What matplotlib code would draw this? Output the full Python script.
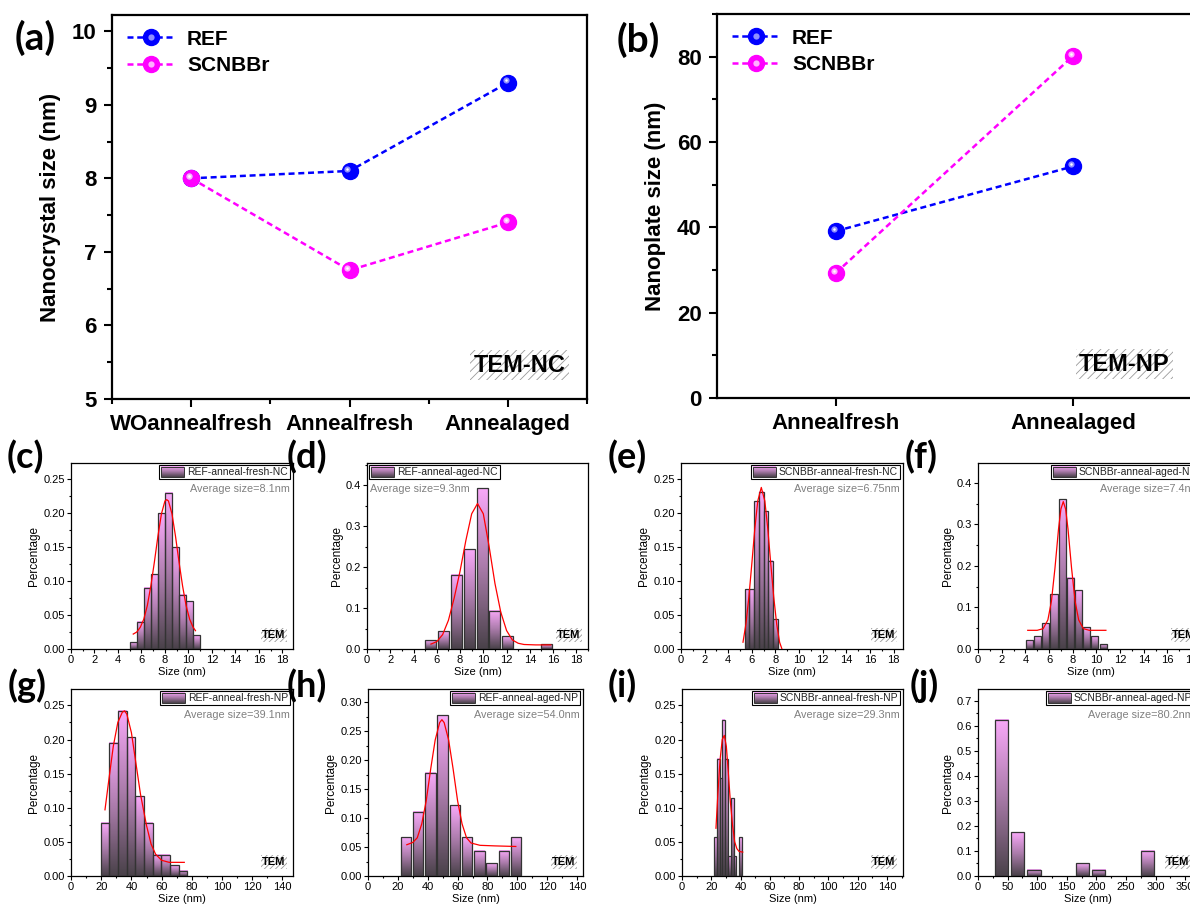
import numpy as np
import matplotlib
matplotlib.use('Agg')
import matplotlib.pyplot as plt
import matplotlib.transforms as mtransforms
from matplotlib.colors import LinearSegmentedColormap
from matplotlib.ticker import MultipleLocator, FormatStrFormatter
from matplotlib.lines import Line2D
from matplotlib.legend_handler import HandlerTuple
from matplotlib.patches import Rectangle

plt.rcParams['font.family'] = ['Liberation Sans', 'DejaVu Sans']
plt.rcParams['hatch.linewidth'] = 0.6

# ---- (a), (b) mean sizes ----
cat_nc = ['WOannealfresh', 'Annealfresh', 'Annealaged']
ref_nc = [8.0, 8.1, 9.3]
scn_nc = [8.0, 6.75, 7.4]

cat_np = ['Annealfresh', 'Annealaged']
ref_np = [39.1, 54.3]
scn_np = [29.3, 80.2]

# ---- histograms (bin centre, fraction) and gaussian fit ----
c_size = [5.3, 5.9, 6.5, 7.1, 7.7, 8.3, 8.9, 9.5, 10.1, 10.7]
c_pct = [0.01, 0.04, 0.09, 0.11, 0.20, 0.23, 0.15, 0.08, 0.07, 0.02]
c_fit_x = [5.3, 5.6, 5.9, 6.2, 6.5, 6.8, 7.1, 7.4, 7.7, 8.0, 8.15, 8.3, 8.6, 8.9, 9.2, 9.5, 9.8, 10.1, 10.4, 10.6]
c_fit_y = [0.022, 0.025, 0.032, 0.044, 0.064, 0.093, 0.128, 0.166, 0.199, 0.218, 0.220, 0.218, 0.199, 0.166,
           0.128, 0.093, 0.064, 0.044, 0.032, 0.027]

d_size = [5.5, 6.6, 7.7, 8.8, 9.9, 11.0, 12.1, 15.4]
d_pct = [0.021, 0.043, 0.181, 0.243, 0.392, 0.093, 0.031, 0.011]
d_fit_x = [5.5, 6.0, 6.5, 7.0, 7.5, 8.0, 8.5, 9.0, 9.5, 10.0, 10.5, 11.0, 11.5, 12.0, 12.5, 13.0, 13.5, 14.5, 15.8]
d_fit_y = [0.012, 0.018, 0.035, 0.07, 0.125, 0.19, 0.265, 0.33, 0.355, 0.33, 0.25, 0.16, 0.09, 0.045, 0.022,
           0.014, 0.011, 0.010, 0.010]

e_size = [5.6, 6.0, 6.4, 6.8, 7.2, 7.6, 8.0]
e_pct = [0.088, 0.088, 0.218, 0.232, 0.203, 0.13, 0.044]
e_fit_x = [5.25, 5.5, 5.75, 6.0, 6.25, 6.5, 6.8, 7.1, 7.35, 7.6, 7.85, 8.1, 8.35, 8.55]
e_fit_y = [0.010, 0.037, 0.077, 0.126, 0.177, 0.218, 0.238, 0.218, 0.177, 0.126, 0.077, 0.037, 0.010, 0.0]

f_size = [4.35, 5.04, 5.73, 6.42, 7.11, 7.80, 8.49, 9.18, 9.87, 10.56]
f_pct = [0.021, 0.031, 0.062, 0.132, 0.361, 0.172, 0.142, 0.052, 0.031, 0.012]
f_fit_x = [4.2, 5.0, 5.5, 5.9, 6.2, 6.5, 6.8, 7.0, 7.2, 7.4, 7.6, 7.9, 8.2, 8.5, 8.9, 9.4, 10.8]
f_fit_y = [0.045, 0.045, 0.049, 0.070, 0.115, 0.195, 0.289, 0.337, 0.355, 0.337, 0.289, 0.195, 0.115, 0.070,
           0.049, 0.045, 0.045]

g_size = [22.5, 28.2, 34.0, 39.7, 45.4, 51.2, 56.9, 62.7, 68.4, 74.1]
g_pct = [0.078, 0.195, 0.242, 0.203, 0.117, 0.078, 0.031, 0.031, 0.016, 0.008]
g_fit_x = [22.5, 25, 28, 31, 34, 35.5, 37, 40, 43, 46, 48, 50, 53, 56, 60, 65, 70, 75]
g_fit_y = [0.097, 0.14, 0.19, 0.225, 0.24, 0.242, 0.237, 0.21, 0.165, 0.12, 0.097, 0.074, 0.047, 0.032,
           0.023, 0.02, 0.02, 0.02]

h_size = [25.4, 33.6, 41.8, 50.0, 58.2, 66.4, 74.6, 82.8, 91.0, 99.2]
h_pct = [0.067, 0.111, 0.178, 0.278, 0.122, 0.067, 0.044, 0.022, 0.044, 0.067]
h_fit_x = [26, 30, 33, 36, 39, 42, 45, 48, 49.5, 51, 54, 57, 60, 63, 66, 69, 75, 85, 99]
h_fit_y = [0.054, 0.058, 0.066, 0.09, 0.13, 0.185, 0.235, 0.265, 0.27, 0.265, 0.235, 0.185, 0.13, 0.09,
           0.066, 0.057, 0.053, 0.052, 0.051]

i_size = [22.85, 24.75, 26.65, 28.55, 30.45, 32.35, 34.25, 36.15, 38.05, 39.95]
i_pct = [0.057, 0.172, 0.143, 0.229, 0.172, 0.029, 0.114, 0.029, 0.0, 0.057]
i_fit_x = [23.2, 24.5, 26, 27.5, 28.9, 30.3, 31.7, 33, 34.5, 36, 37.5, 39, 41.5]
i_fit_y = [0.07, 0.12, 0.17, 0.2, 0.206, 0.19, 0.15, 0.11, 0.075, 0.05, 0.04, 0.036, 0.035]

j_size = [39.7, 67.1, 94.5, 176.7, 204.1, 286.3]
j_pct = [0.625, 0.175, 0.025, 0.05, 0.025, 0.1]

names = ['REF-anneal-fresh-NC', 'REF-anneal-aged-NC', 'SCNBBr-anneal-fresh-NC', 'SCNBBr-anneal-aged-NC',
         'REF-anneal-fresh-NP', 'REF-anneal-aged-NP', 'SCNBBr-anneal-fresh-NP', 'SCNBBr-anneal-aged-NP']
avgs = ['Average size=8.1nm', 'Average size=9.3nm', 'Average size=6.75nm', 'Average size=7.4nm',
        'Average size=39.1nm', 'Average size=54.0nm', 'Average size=29.3nm', 'Average size=80.2nm']

W, H = 1190, 905
fig = plt.figure(figsize=(W / 100, H / 100), dpi=100)
ident = mtransforms.IdentityTransform()


def px_axes(l, t, r, b):
    return fig.add_axes([l / W, 1 - b / H, (r - l) / W, (b - t) / H])


def label(x, y, s, size):
    fig.text(x / W, 1 - y / H, s, ha='left', va='center', fontsize=size, fontweight='bold',
             family=['Lato', 'DejaVu Sans'])


BLUE, MAG = '#0000ff', '#ff00ff'
dash = (0, (2.4, 1.5))


def ball_line(ax, x, y, col, hi):
    ax.plot(x, y, ls=dash, lw=1.8, color=col, zorder=2)
    ax.plot(x, y, 'o', ms=11.5, color=col, mec=col, zorder=3)
    off = mtransforms.offset_copy(ax.transData, fig=fig, x=-1.6, y=1.6, units='points')
    ax.plot(x, y, 'o', ms=4.5, color=hi, mec='none', transform=off, zorder=4)
    ax.plot(x, y, 'o', ms=1.8, color='white', mec='none', transform=off, zorder=5)


def main_panel(ax, cats, ref, scn, ylab, ylim, ymaj, ymin, tag):
    xs = np.arange(len(cats))
    ball_line(ax, xs, ref, BLUE, '#8f8fff')
    ball_line(ax, xs, scn, MAG, '#ffb0ff')
    ax.set_xlim(-0.5, len(cats) - 0.5)
    ax.set_ylim(*ylim)
    ax.set_xticks(xs)
    ax.set_xticklabels(cats)
    ax.yaxis.set_major_locator(MultipleLocator(ymaj))
    ax.yaxis.set_minor_locator(MultipleLocator(ymin))
    ax.tick_params(which='both', direction='out', width=1.5, top=False, right=False)
    ax.tick_params(which='major', length=6, labelsize=16, pad=5)
    ax.tick_params(which='minor', length=3.5)
    for lab in ax.get_xticklabels() + ax.get_yticklabels():
        lab.set_fontweight('bold')
    for sp in ax.spines.values():
        sp.set_linewidth(1.6)
    ax.set_ylabel(ylab, fontsize=16, fontweight='bold', labelpad=8)
    hs = []
    for col, hi in [(BLUE, '#8f8fff'), (MAG, '#ffb0ff')]:
        hs.append((Line2D([], [], ls=dash, lw=1.8, color=col, marker='o', ms=11.5),
                   Line2D([], [], ls='none', marker='o', ms=4.5, color=hi, mec='none')))
    ax.legend(hs, ['REF', 'SCNBBr'], handler_map={tuple: HandlerTuple(ndivide=1)}, loc='upper left',
              frameon=False, prop={'weight': 'bold', 'size': 15}, handlelength=2.3, handletextpad=0.6,
              labelspacing=0.35, borderaxespad=0.3)
    ax.text(0.858, 0.088, tag, transform=ax.transAxes, ha='center', va='center', fontsize=17,
            fontweight='bold', bbox=dict(boxstyle='square,pad=0.15', fc='white', ec='#9a9a9a', lw=0,
                                         hatch='////'))


ax_a = px_axes(112, 15, 587, 399)
main_panel(ax_a, cat_nc, ref_nc, scn_nc, 'Nanocrystal size (nm)', (5, 10.22), 1, 0.5, 'TEM-NC')
ax_a.set_xticks([-0.5, 0.5, 1.5, 2.5], minor=True)

ax_b = px_axes(717, 14, 1192, 398)
main_panel(ax_b, cat_np, ref_np, scn_np, 'Nanoplate size (nm)', (0, 90), 20, 10, 'TEM-NP')
ax_b.set_xticks([], minor=True)

label(15, 38, '(a)', 28)
label(617, 40, '(b)', 28)

# ---- histogram panels ----
grad_cmap = LinearSegmentedColormap.from_list('pk', ['#4a424a', '#a87aa8', '#f8a8f8'])
grad = np.linspace(0, 1, 64).reshape(-1, 1)

panels = [
    dict(box=(71, 463, 293, 649), x=c_size, y=c_pct, w=0.6, fx=c_fit_x, fy=c_fit_y, xlim=19 * 0.995,
         ylim=0.274, xt=(2, 1), yt=(0.05, 0.025), fmt='%.2f', side='right', tag=(7, 457, '(c)')),
    dict(box=(367, 463, 588, 649), x=d_size, y=d_pct, w=0.95, fx=d_fit_x, fy=d_fit_y, xlim=19,
         ylim=0.454, xt=(2, 1), yt=(0.1, 0.05), fmt='%.1f', side='left', tag=(287, 457, '(d)')),
    dict(box=(681, 463, 903, 649), x=e_size, y=e_pct, w=0.4, fx=e_fit_x, fy=e_fit_y, xlim=18.8,
         ylim=0.274, xt=(2, 1), yt=(0.05, 0.025), fmt='%.2f', side='right', tag=(608, 457, '(e)')),
    dict(box=(978, 463, 1203, 649), x=f_size, y=f_pct, w=0.6, fx=f_fit_x, fy=f_fit_y, xlim=19,
         ylim=0.448, xt=(2, 1), yt=(0.1, 0.05), fmt='%.1f', side='right', tag=(905, 457, '(f)')),
    dict(box=(71, 689, 293, 876), x=g_size, y=g_pct, w=5.74, fx=g_fit_x, fy=g_fit_y, xlim=147,
         ylim=0.274, xt=(20, 10), yt=(0.05, 0.025), fmt='%.2f', side='right', tag=(8, 686, '(g)')),
    dict(box=(368, 689, 583, 876), x=h_size, y=h_pct, w=7.1, fx=h_fit_x, fy=h_fit_y, xlim=144,
         ylim=0.323, xt=(20, 10), yt=(0.05, 0.025), fmt='%.2f', side='right', tag=(287, 686, '(h)')),
    dict(box=(682, 689, 903, 876), x=i_size, y=i_pct, w=1.9, fx=i_fit_x, fy=i_fit_y, xlim=151,
         ylim=0.274, xt=(20, 10), yt=(0.05, 0.025), fmt='%.2f', side='right', tag=(608, 686, '(i)')),
    dict(box=(978, 689, 1197, 876), x=j_size, y=j_pct, w=22.5, fx=None, fy=None, xlim=370,
         ylim=0.747, xt=(50, 25), yt=(0.1, 0.05), fmt='%.1f', side='right', tag=(910, 686, '(j)')),
]

renderer = fig.canvas.get_renderer()

for p, name, avg in zip(panels, names, avgs):
    ax = px_axes(*p['box'])
    bars = ax.bar(p['x'], p['y'], width=p['w'], facecolor='none', edgecolor='#333333', lw=0.9, zorder=3)
    for b in bars:
        x0, w, h = b.get_x(), b.get_width(), b.get_height()
        if h <= 0:
            continue
        ax.imshow(grad, cmap=grad_cmap, extent=[x0, x0 + w, 0, h], origin='lower', aspect='auto',
                  interpolation='bilinear', zorder=2)
    if p['fx'] is not None:
        ax.plot(p['fx'], p['fy'], color='red', lw=0.9, zorder=4)

    bb = ax.bbox
    hbox = 14
    top = bb.y1 - 2
    ymid = top - hbox / 2
    if p['side'] == 'right':
        right = bb.x1 - 3
        t = ax.text(right - 2, ymid, name, transform=ident, ha='right', va='center', fontsize=7.5,
                    color='#222222', zorder=8)
        tw = t.get_window_extent(renderer).width
        px1 = right - 2 - tw - 3
        px0 = px1 - 23
        left = px0 - 2
        ax.text(right, top - 24, avg, transform=ident, ha='right', va='center', fontsize=7.8,
                color='#808080', zorder=8)
    else:
        left = bb.x0 + 2
        px0 = left + 2
        px1 = px0 + 23
        t = ax.text(px1 + 3, ymid, name, transform=ident, ha='left', va='center', fontsize=7.5,
                    color='#222222', zorder=8)
        tw = t.get_window_extent(renderer).width
        right = px1 + 3 + tw + 2
        ax.text(left + 1, top - 24, avg, transform=ident, ha='left', va='center', fontsize=7.8,
                color='#808080', zorder=8)
    ax.add_patch(Rectangle((left, top - hbox), right - left, hbox, transform=ident, fc='white',
                           ec='black', lw=0.8, zorder=6))
    ax.imshow(grad, cmap=grad_cmap, extent=[px0, px1, top - hbox + 1.8, top - 1.8], transform=ident,
              origin='lower', aspect='auto', interpolation='bilinear', zorder=7)
    ax.add_patch(Rectangle((px0, top - hbox + 1.8), px1 - px0, hbox - 3.6, transform=ident, fc='none',
                           ec='#333333', lw=0.7, zorder=7.5))

    ax.text(bb.x1 - 19, bb.y0 + 14, 'TEM', transform=ident, ha='center', va='center', fontsize=8,
            fontweight='bold', zorder=8,
            bbox=dict(boxstyle='square,pad=0.15', fc='white', ec='#9a9a9a', lw=0, hatch='//////'))

    ax.set_xlim(0, p['xlim'])
    ax.set_ylim(0, p['ylim'])
    ax.xaxis.set_major_locator(MultipleLocator(p['xt'][0]))
    ax.xaxis.set_minor_locator(MultipleLocator(p['xt'][1]))
    ax.yaxis.set_major_locator(MultipleLocator(p['yt'][0]))
    ax.yaxis.set_minor_locator(MultipleLocator(p['yt'][1]))
    ax.yaxis.set_major_formatter(FormatStrFormatter(p['fmt']))
    ax.tick_params(which='both', direction='out', width=0.8, top=False, right=False)
    ax.tick_params(which='major', length=3, labelsize=8, pad=1.5)
    ax.tick_params(which='minor', length=1.6)
    for sp in ax.spines.values():
        sp.set_linewidth(0.9)
    ax.set_xlabel('Size (nm)', fontsize=8, labelpad=1)
    ax.set_ylabel('Percentage', fontsize=8.5, labelpad=2)
    tx, ty, ts = p['tag']
    label(tx, ty, ts, 26)

fig.savefig('out.png', dpi=100)
